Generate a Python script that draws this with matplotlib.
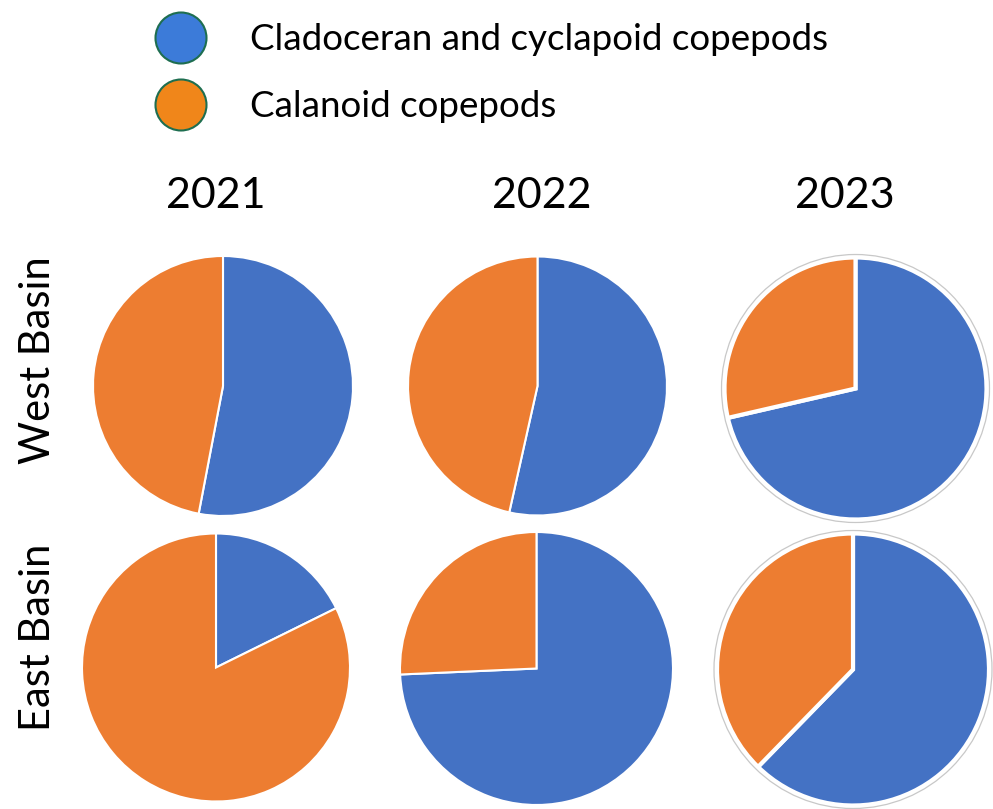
"""
Zooplankton composition pies, West and East Basin, 2021-2023
"""
import matplotlib
matplotlib.use("Agg")
import matplotlib.pyplot as plt
from matplotlib.patches import Circle

plt.rcParams['font.family'] = ['Lato', 'DejaVu Sans']

years = ["2021", "2022", "2023"]
basins = ["West Basin", "East Basin"]
groups = ["Cladoceran and cyclapoid copepods", "Calanoid copepods"]

# percent share of cladoceran + cyclopoid copepods per year
west_cladocyclo = [53.0, 53.5, 71.4]
east_cladocyclo = [17.7, 74.3, 62.3]

pie_colors = ["#4472C4", "#ED7D31"]
legend_colors = ["#3C7BD9", "#F0861A"]

W, H = 993, 809
fig = plt.figure(figsize=(W / 100, H / 100), dpi=100)

# pixel layout for each pie: centre x, centre y, radius
layout = {
    ("West Basin", "2021"): (223, 386, 130),
    ("West Basin", "2022"): (537.5, 386, 129.5),
    ("West Basin", "2023"): (855.5, 388.5, 131),
    ("East Basin", "2021"): (216, 667.5, 134),
    ("East Basin", "2022"): (536.5, 668.5, 136.5),
    ("East Basin", "2023"): (853, 669.5, 136),
}


def add_pie(basin, year, share):
    cx, cy, r = layout[(basin, year)]
    pad = 6
    box = r + pad
    ax = fig.add_axes([(cx - box) / W, 1 - (cy + box) / H, 2 * box / W, 2 * box / H])
    outlined = year == "2023"
    ax.pie([share, 100 - share], colors=pie_colors, startangle=90, counterclock=False,
           radius=1.0,
           wedgeprops=dict(edgecolor="white", linewidth=3 if outlined else 1.5))
    if outlined:
        ring = Circle((0, 0), 1 + 3 / r, fill=False, edgecolor="#C8C8C8", linewidth=0.9)
        ax.add_patch(ring)
    lim = box / r
    ax.set_xlim(-lim, lim)
    ax.set_ylim(-lim, lim)
    ax.set_aspect("equal")
    ax.axis("off")


for year, w, e in zip(years, west_cladocyclo, east_cladocyclo):
    add_pie("West Basin", year, w)
    add_pie("East Basin", year, e)

# overlay in pixel coordinates for the texts and legend
over = fig.add_axes([0, 0, 1, 1], zorder=-1)
over.set_xlim(0, W)
over.set_ylim(H, 0)
over.axis("off")

year_x = [216, 542, 845]
for x, year in zip(year_x, years):
    over.text(x, 196, year, fontsize=31, ha="center", va="center")

row_y = [360, 637]
for y, basin in zip(row_y, basins):
    over.text(38, y, basin, fontsize=30, rotation=90, ha="center", va="center")

legend_y = [38, 105]
for y, label, col in zip(legend_y, groups, legend_colors):
    over.add_patch(Circle((181, y), 25.5, facecolor=col, edgecolor="#1E6E50", linewidth=1.5))
    over.text(250, y + 1, label, fontsize=26.5, ha="left", va="center")

fig.savefig("out.png", dpi=100)
